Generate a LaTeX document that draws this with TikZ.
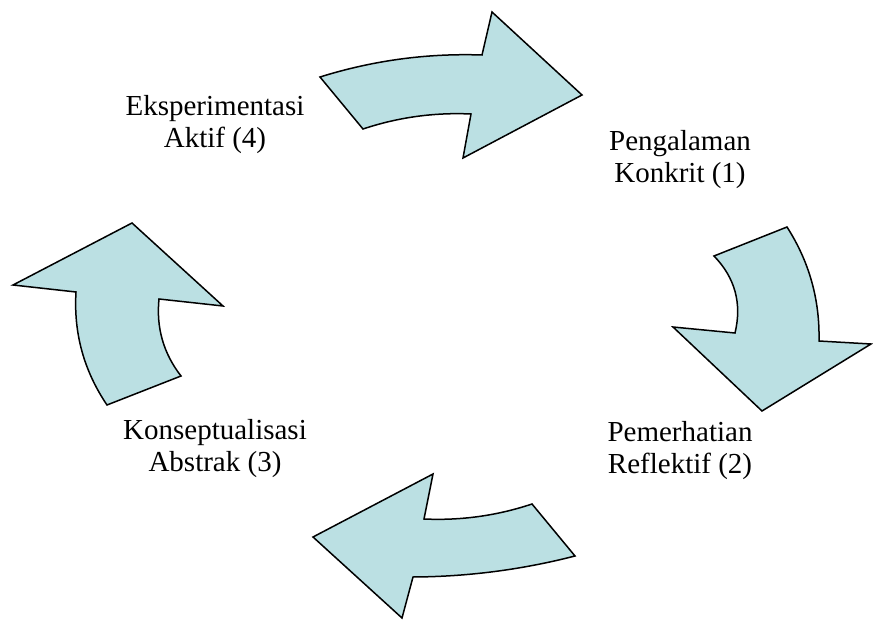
\documentclass[tikz,border=0pt]{standalone}
\usepackage{fontspec}
\setmainfont{Liberation Serif}
\definecolor{arrowfill}{HTML}{BBE0E3}
\tikzset{
  cyclearrow/.style={draw=black, fill=arrowfill, line width=1.5pt, line join=miter},
  stagelabel/.style={align=center, inner sep=0pt, anchor=base, font=\fontsize{29}{32}\selectfont}
}
\begin{document}
\begin{tikzpicture}[x=1pt, y=-1pt]
\useasboundingbox (0,0) rectangle (873,620);
% top arrow (4 -> 1)
\draw[cyclearrow] (320,77) .. controls (372.8,60.5) and (426.8,53.1) .. (482,55)
  -- (492,12) -- (582,95) -- (463,158) -- (471,114)
  .. controls (434.1,112.3) and (398.1,117.3) .. (363,129) -- cycle;
% right arrow (1 -> 2)
\draw[cyclearrow] (714,256) -- (787,227) .. controls (809.3,261.8) and (819.9,299.8) .. (819,341)
  -- (871,344) -- (762,411) -- (673,327) -- (735,333)
  .. controls (742.1,303.5) and (735.1,277.8) .. cycle;
% bottom arrow (2 -> 3)
\draw[cyclearrow] (532,504) .. controls (496.9,515.7) and (460.9,520.7) .. (424,519)
  -- (433,474) -- (313,537) -- (402,618) -- (413,577)
  .. controls (467.8,576.7) and (521.8,569.7) .. (575,556) -- cycle;
% left arrow (3 -> 4)
\draw[cyclearrow] (107,405) .. controls (83.9,370.8) and (73.5,333.1) .. (76,292)
  -- (13,285) -- (132,223) -- (223,306) -- (159,299)
  .. controls (156.1,327.6) and (163.4,353.3) .. (181,376) -- cycle;
% labels
\node[stagelabel] (s4) at (215,148) {Eksperimentasi\\Aktif (4)};
\node[stagelabel] (s1) at (680,183) {Pengalaman\\Konkrit (1)};
\node[stagelabel] (s2) at (680,473) {Pemerhatian\\Reflektif (2)};
\node[stagelabel] (s3) at (215,471) {Konseptualisasi\\Abstrak (3)};
\end{tikzpicture}
\end{document}
